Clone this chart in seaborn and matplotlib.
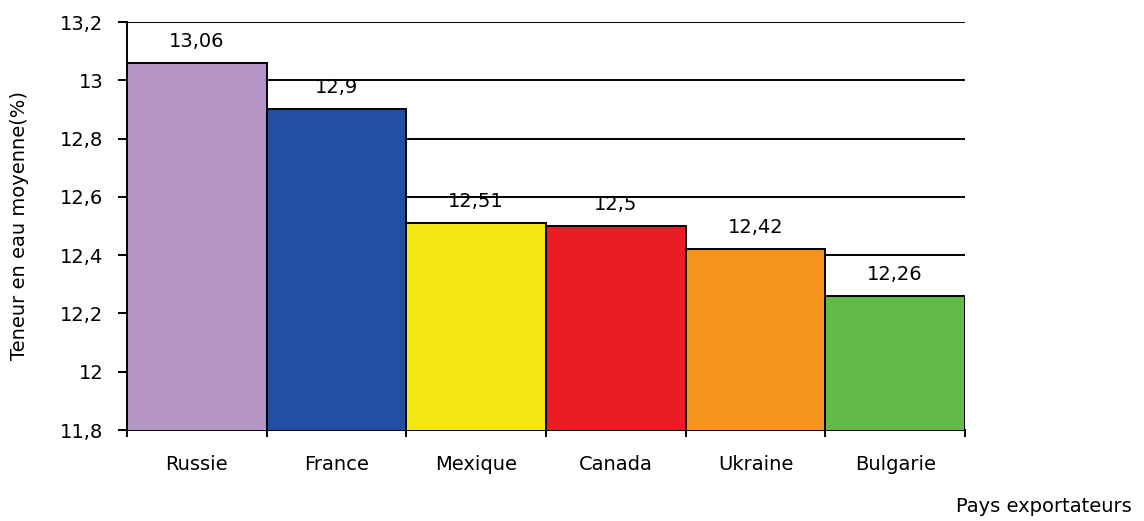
import numpy as np
import pandas as pd
import matplotlib
matplotlib.use("Agg")
import matplotlib.pyplot as plt
import seaborn as sns
from matplotlib.ticker import FixedLocator, FuncFormatter

# Teneur en eau moyenne par pays exportateur
pays = ["Russie", "France", "Mexique", "Canada", "Ukraine", "Bulgarie"]
teneur = [13.06, 12.9, 12.51, 12.5, 12.42, 12.26]
couleurs = ["#B594C6", "#2150A3", "#F2E713", "#EC1C24", "#F7941D", "#62BB46"]
graduations = [11.8, 12.0, 12.2, 12.4, 12.6, 12.8, 13.0, 13.2]

sns.set_theme(style="white")
plt.rcParams["font.family"] = ["DejaVu Sans"]

W, H = 1144, 521
fs = 14


def virgule(v):
    return f"{v:g}".replace(".", ",")


df = pd.DataFrame({"pays": pays, "teneur": teneur})

fig = plt.figure(figsize=(W / 100, H / 100), dpi=100)
ax = fig.add_axes([127 / W, 1 - 430 / H, (965 - 127) / W, (430 - 22) / H])

sns.barplot(data=df, x="pays", y="teneur", hue="pays", palette=couleurs,
            width=1.0, edgecolor="black", linewidth=1.4, legend=False,
            saturation=1, ax=ax, zorder=3)

ax.set_xlim(-0.5, len(pays) - 0.5)
ax.set_ylim(graduations[0], graduations[-1])

# horizontal grid lines behind the bars
ax.set_axisbelow(True)
ax.yaxis.set_major_locator(FixedLocator(graduations))
ax.yaxis.set_major_formatter(FuncFormatter(lambda v, _: virgule(v)))
ax.yaxis.grid(True, color="black", linewidth=1.4)
ax.xaxis.grid(False)

for side in ("top", "right"):
    ax.spines[side].set_visible(False)
for side in ("left", "bottom"):
    ax.spines[side].set_color("black")
    ax.spines[side].set_linewidth(1.4)

# category ticks sit on the bar boundaries
ax.xaxis.set_minor_locator(FixedLocator(np.arange(len(pays) + 1) - 0.5))
ax.tick_params(axis="x", which="minor", bottom=True, length=5, width=1.4,
               color="black", direction="out")
ax.tick_params(axis="x", which="major", bottom=True, length=0, pad=18,
               labelsize=fs, labelcolor="black")
ax.tick_params(axis="y", which="major", left=True, length=6.5, width=1.4,
               color="black", direction="out", pad=10.5, labelsize=fs,
               labelcolor="black")

ax.set_xlabel("")
ax.set_ylabel("")

for i, v in enumerate(teneur):
    ax.annotate(virgule(v), (i, v), xytext=(0, 11.5), textcoords="offset points",
                ha="center", va="baseline", fontsize=fs, color="black")

fig.text(20 / W, 1 - 226 / H, "Teneur en eau moyenne(%)", rotation=90,
         ha="center", va="center", fontsize=fs, color="black")
fig.text(1132 / W, 1 - 507 / H, "Pays exportateurs", ha="right",
         va="center", fontsize=fs, color="black")

fig.savefig("out.png", dpi=100)
